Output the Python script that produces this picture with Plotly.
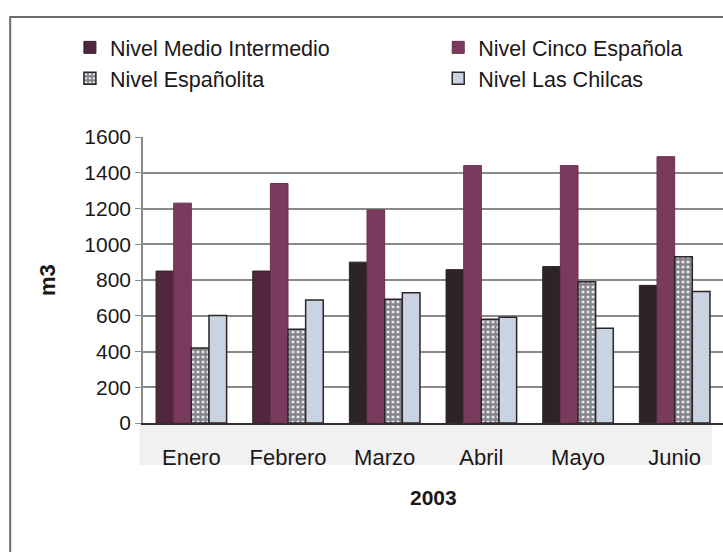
import plotly.graph_objects as go

# Monthly volumes (m3), first half of 2003
months = ["Enero", "Febrero", "Marzo", "Abril", "Mayo", "Junio"]
medio_intermedio = [850, 850, 900, 858, 875, 770]
cinco_espanola = [1230, 1340, 1192, 1440, 1440, 1490]
espanolita = [420, 525, 692, 580, 790, 930]
las_chilcas = [602, 688, 728, 592, 530, 735]

y_ticks = [0, 200, 400, 600, 800, 1000, 1200, 1400, 1600]

FONT = "Liberation Sans, Arial, sans-serif"
INK = "#1c1719"

fig = go.Figure()

fig.add_trace(go.Bar(
    name="Nivel Medio Intermedio", x=months, y=medio_intermedio, legend="legend",
    marker=dict(color=["#52263f", "#52263f", "#2c2428", "#2c2428", "#2c2428", "#2c2428"],
                line=dict(color="#2c2428", width=1)),
))
fig.add_trace(go.Bar(
    name="Nivel Cinco Española", x=months, y=cinco_espanola, legend="legend2",
    marker=dict(color="#7a3a5e", line=dict(color="#6a2f50", width=1)),
))
fig.add_trace(go.Bar(
    name="Nivel Españolita", x=months, y=espanolita, legend="legend",
    marker=dict(color="#e6ebf2", line=dict(color="#2c2428", width=1.5),
                pattern=dict(shape="+", fgcolor="#241d21", size=5, solidity=0.7,
                             fillmode="overlay")),
))
fig.add_trace(go.Bar(
    name="Nivel Las Chilcas", x=months, y=las_chilcas, legend="legend2",
    marker=dict(color="#c9d3e1", line=dict(color="#2c2428", width=1.5)),
))

# Outer chart frame and the shaded strip behind the month labels
fig.add_shape(type="rect", xref="paper", yref="paper", x0=-0.229, x1=1.05, y0=-0.6, y1=1.42,
              line=dict(color="#6b6b6b", width=2), fillcolor="rgba(0,0,0,0)", layer="below")
fig.add_shape(type="rect", xref="paper", yref="paper", x0=-0.006, x1=0.981, y0=-0.147, y1=0,
              line=dict(width=0), fillcolor="#f1f1f1", layer="below")

fig.add_annotation(text="<b>m3</b>", xref="paper", yref="paper", x=-0.1655, y=0.5,
                   xanchor="center", yanchor="middle",
                   textangle=-90, showarrow=False, font=dict(size=22, color=INK, family=FONT))
fig.add_annotation(text="<b>2003</b>", xref="paper", yref="paper", x=0.5, y=-0.262,
                   xanchor="center", yanchor="middle",
                   showarrow=False, font=dict(size=21, color=INK, family=FONT))

legend_common = dict(orientation="v", yanchor="top", xanchor="left", itemwidth=30,
                     tracegroupgap=0, traceorder="normal",
                     font=dict(size=21.5, family=FONT, color=INK),
                     bgcolor="rgba(0,0,0,0)")

fig.update_layout(
    width=723, height=552,
    margin=dict(l=143, r=0, t=137, b=129),
    paper_bgcolor="white", plot_bgcolor="white",
    barmode="group", bargap=0.27, bargroupgap=0,
    font=dict(family=FONT, size=21, color=INK),
    showlegend=True,
    legend=dict(x=-0.126, y=1.385, **legend_common),
    legend2=dict(x=0.509, y=1.385, **legend_common),
    xaxis=dict(showline=True, linecolor="#3a2a32", linewidth=2, ticks="",
               ticklabelstandoff=14, tickfont=dict(size=22)),
    yaxis=dict(range=[0, 1600], tickvals=y_ticks, showgrid=True, gridcolor="#8a8a8a",
               gridwidth=1.5, showline=True, linecolor="#8a8a8a", linewidth=1.5,
               ticks="outside", ticklen=6, tickcolor="#8a8a8a", zeroline=False,
               tickfont=dict(size=21)),
)

fig.write_html("out.html")
